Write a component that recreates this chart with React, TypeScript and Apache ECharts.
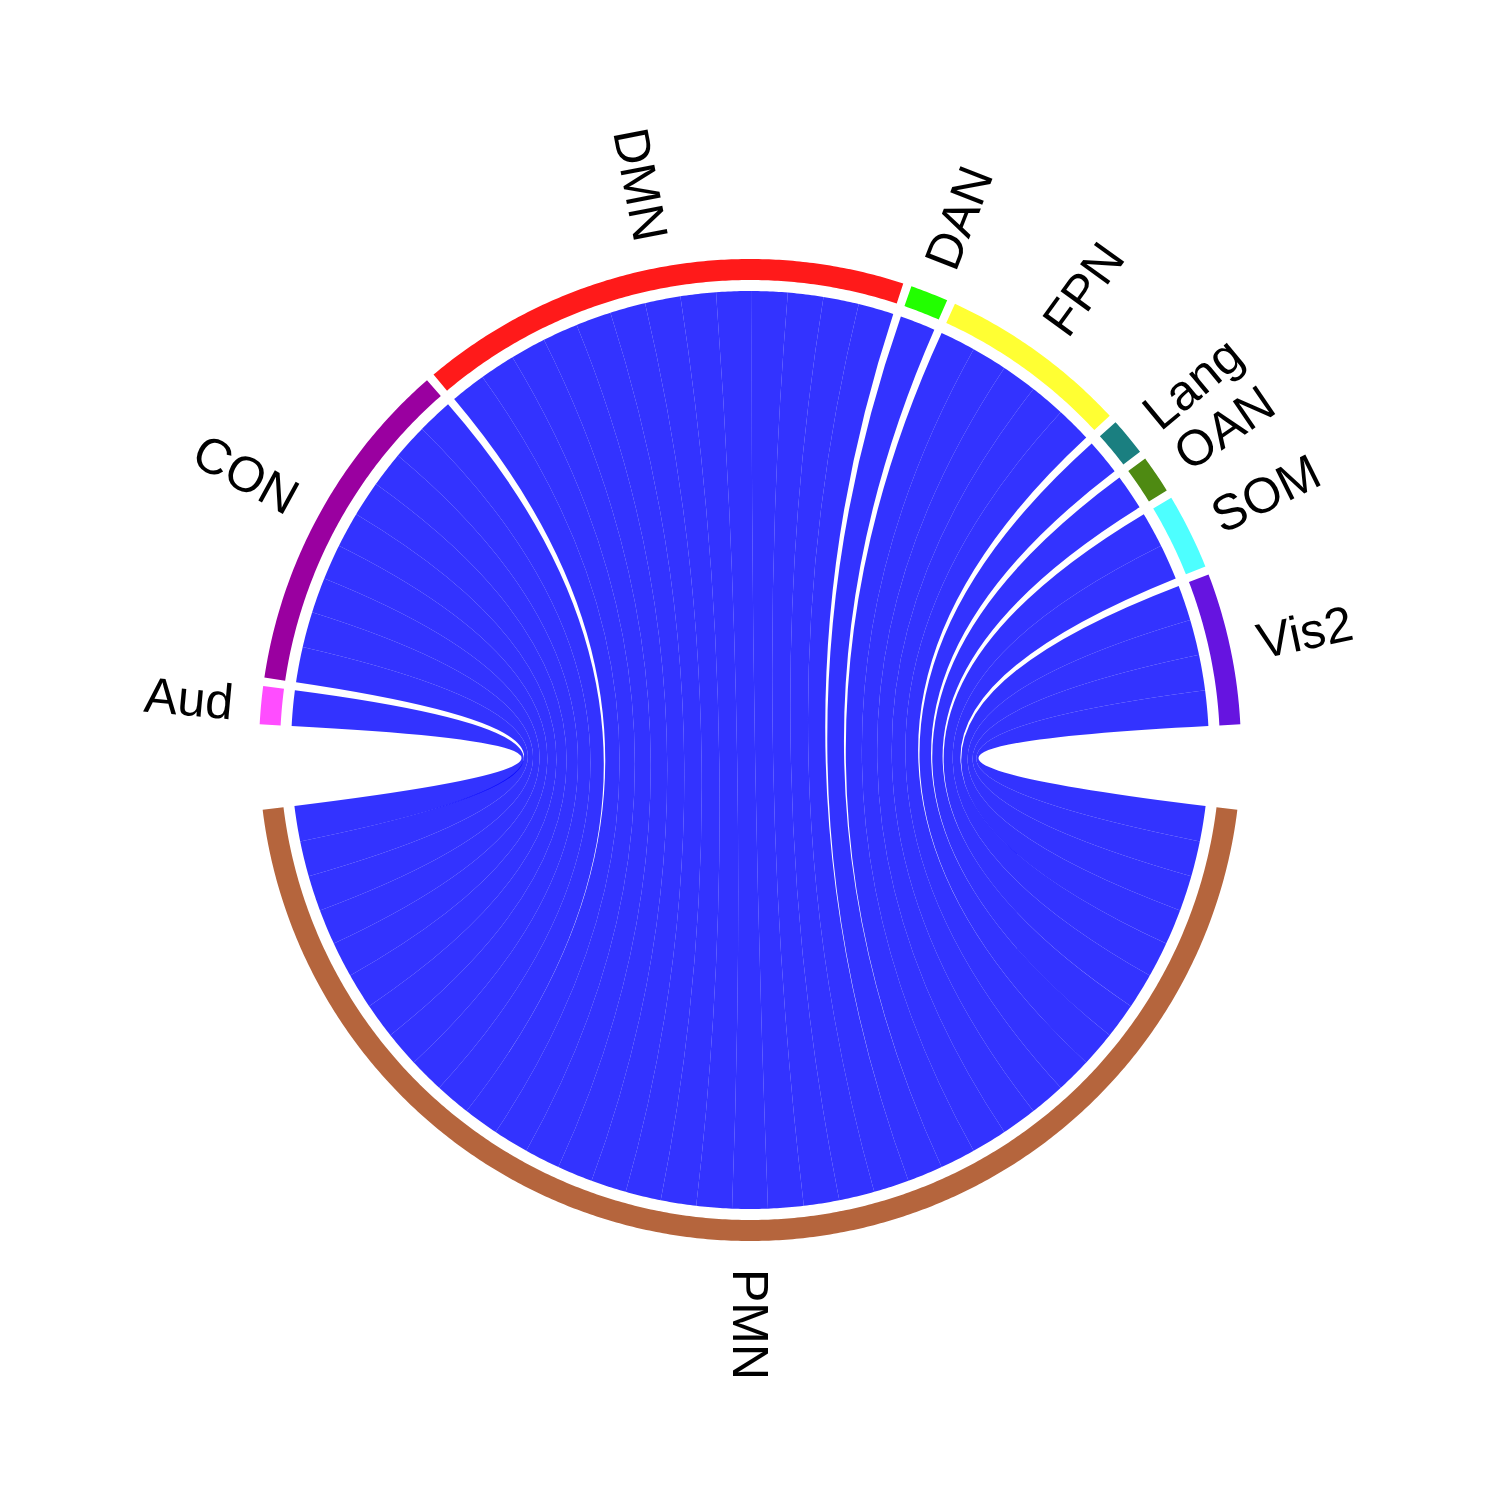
import React, { useEffect, useRef } from "react";
import * as echarts from "echarts";

// ---- data ----
const hubName = "PMN";
const networks = ["Aud", "CON", "DMN", "DAN", "FPN", "Lang", "OAN", "SOM", "Vis2"];
const linkCounts = [1, 9, 13, 1, 5, 1, 1, 2, 4];
const networkColors = ["#FF4DFF", "#9A00A0", "#FF1A1A", "#22FF00", "#FFFF33", "#1A7F80", "#4E8A12", "#4DFFFF", "#6614E0"];
const hubColor = "#B5653D";
const chordColor = "rgba(0,0,255,0.8)";

// ---- layout constants ----
const BIG_GAP = 10;
const SMALL_GAP = 1;
const R_CHORD = 459;
const R_RING0 = 470;
const R_RING1 = 491;
const R_LABEL = 519;
const FONT_SIZE = 50;

type Item =
  | { kind: "ring"; lo: number; hi: number; color: string }
  | { kind: "chord"; xLo: number; xHi: number; pLo: number; pHi: number }
  | { kind: "label"; angle: number; text: string };

function buildItems(): Item[] {
  const total = linkCounts.reduce((a, b) => a + b, 0);
  const n = networks.length;
  const u = (360 - 2 * BIG_GAP - (n - 1) * SMALL_GAP) / (2 * total);
  const hubStart = 270 - (total * u) / 2;
  const hubEnd = 270 + (total * u) / 2;
  const top = 90 + (total * u + (n - 1) * SMALL_GAP) / 2;
  const items: Item[] = [];
  let hi = top;
  let cum = 0;
  const labels: Item[] = [];
  for (let k = 0; k < n; k++) {
    const lo = hi - linkCounts[k] * u;
    items.push({ kind: "ring", lo, hi, color: networkColors[k] });
    labels.push({ kind: "label", angle: (lo + hi) / 2, text: networks[k] });
    for (let j = 0; j < linkCounts[k]; j++) {
      const xHi = hi - j * u;
      const xLo = xHi - u;
      const pLo = hubStart + (cum + j) * u;
      items.push({ kind: "chord", xLo, xHi, pLo, pHi: pLo + u });
    }
    cum += linkCounts[k];
    hi = lo - SMALL_GAP;
  }
  items.push({ kind: "ring", lo: hubStart, hi: hubEnd, color: hubColor });
  labels.push({ kind: "label", angle: 270, text: hubName });
  return items.concat(labels);
}

function fmt(v: number) {
  return v.toFixed(2);
}

export default function App() {
  const ref = useRef<HTMLDivElement>(null);
  useEffect(() => {
    if (!ref.current) return;
    const chart = echarts.init(ref.current, null, { renderer: "svg" });
    const items = buildItems();
    const rad = (d: number) => (d * Math.PI) / 180;

    const renderItem = (params: any, api: any) => {
      const it = items[params.dataIndex];
      const cx = api.getWidth() / 2;
      const cy = api.getHeight() / 2;
      const pt = (a: number, r: number) => [cx + r * Math.cos(rad(a)), cy - r * Math.sin(rad(a))];
      const arc = (a1: number, a2: number, r: number, first: boolean) => {
        const steps = Math.max(2, Math.ceil(Math.abs(a2 - a1) / 0.4));
        let s = "";
        for (let i = 0; i <= steps; i++) {
          const a = a1 + ((a2 - a1) * i) / steps;
          const p = pt(a, r);
          s += (i === 0 && first ? "M" : "L") + fmt(p[0]) + " " + fmt(p[1]) + " ";
        }
        return s;
      };
      if (it.kind === "ring") {
        const d = arc(it.lo, it.hi, R_RING1, true) + arc(it.hi, it.lo, R_RING0, false) + "Z";
        return { type: "path", shape: { pathData: d }, style: { fill: it.color, stroke: null } };
      }
      if (it.kind === "chord") {
        const p1 = pt(it.pLo, R_CHORD);
        const p2 = pt(it.xLo, R_CHORD);
        const d =
          arc(it.xLo, it.xHi, R_CHORD, true) +
          "Q" + fmt(cx) + " " + fmt(cy) + " " + fmt(p1[0]) + " " + fmt(p1[1]) + " " +
          arc(it.pLo, it.pHi, R_CHORD, false) +
          "Q" + fmt(cx) + " " + fmt(cy) + " " + fmt(p2[0]) + " " + fmt(p2[1]) + " Z";
        return { type: "path", shape: { pathData: d }, style: { fill: chordColor, stroke: null } };
      }
      const a = it.angle;
      const inward = Math.cos(rad(a)) < -1e-6;
      const p = pt(a, R_LABEL);
      return {
        type: "text",
        x: p[0],
        y: p[1],
        rotation: rad(inward ? a - 180 : a),
        style: {
          text: it.text,
          fill: "#000000",
          fontSize: FONT_SIZE,
          fontFamily: "Liberation Sans, Arial, sans-serif",
          align: inward ? "right" : "left",
          verticalAlign: "middle",
        },
      };
    };

    chart.setOption({
      animation: false,
      backgroundColor: "#ffffff",
      series: [
        {
          type: "custom",
          coordinateSystem: "none",
          silent: true,
          renderItem,
          data: items.map((_, i) => [i]),
        },
      ],
    });
    return () => chart.dispose();
  }, []);
  return (
    <div
      ref={ref}
      style={{ position: "absolute", left: 0, top: 0, width: 1500, height: 1500, background: "#ffffff" }}
    />
  );
}
